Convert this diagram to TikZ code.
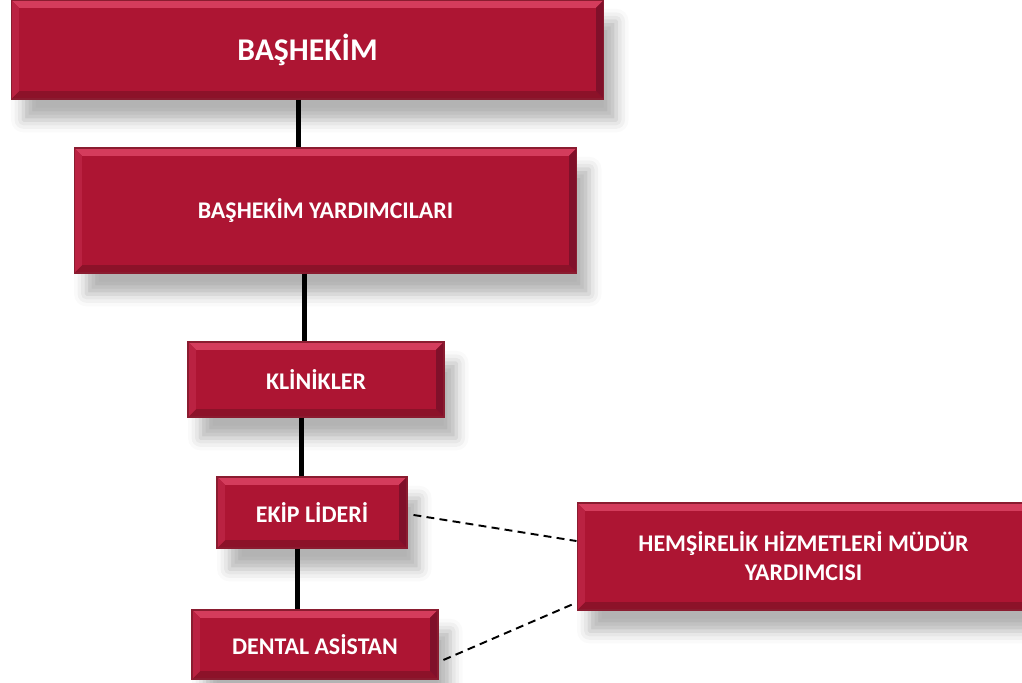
\documentclass[tikz,border=0pt]{standalone}
\usepackage{fontspec}
\setmainfont{Carlito}
\usetikzlibrary{calc,shadows.blur}

\definecolor{boxred}{HTML}{AD1533}
\definecolor{boxedge}{HTML}{8A1C30}
\definecolor{bevtop}{HTML}{D43C5C}
\definecolor{bevleft}{HTML}{BA2242}
\definecolor{bevbot}{HTML}{8C1229}
\definecolor{bevright}{HTML}{80102A}

\tikzset{
  orgbox/.style={draw=boxedge, fill=boxred, line width=0.6pt, text=white,
    font=\bfseries\fontsize{13.6}{16.5}\selectfont, align=center, inner sep=0pt,
    blur shadow={shadow xshift=7pt, shadow yshift=-12pt, shadow blur radius=7pt,
      shadow opacity=30},
    path picture={
      \path (path picture bounding box.south west) coordinate (pp-sw)
            (path picture bounding box.north east) coordinate (pp-ne);
      \coordinate (pp-tl) at (pp-sw |- pp-ne);
      \coordinate (pp-br) at (pp-ne |- pp-sw);
      \fill[bevtop] (pp-tl) -- (pp-ne) -- ($(pp-ne)+(-4.5pt,-4.5pt)$) -- ($(pp-tl)+(4.5pt,-4.5pt)$) -- cycle;
      \fill[bevbot] (pp-sw) -- (pp-br) -- ($(pp-br)+(-4.5pt,4.5pt)$) -- ($(pp-sw)+(4.5pt,4.5pt)$) -- cycle;
      \fill[bevleft] (pp-tl) -- (pp-sw) -- ($(pp-sw)+(4.5pt,4.5pt)$) -- ($(pp-tl)+(4.5pt,-4.5pt)$) -- cycle;
      \fill[bevright] (pp-ne) -- (pp-br) -- ($(pp-br)+(-4.5pt,4.5pt)$) -- ($(pp-ne)+(-4.5pt,-4.5pt)$) -- cycle;
    }},
  link/.style={line width=2.8pt, black},
  dashlink/.style={line width=1.1pt, black, dash pattern=on 4.5pt off 3pt}
}

\begin{document}
\begin{tikzpicture}[x=0.02cm, y=-0.02cm]
\useasboundingbox (0,0) rectangle (1022,683);

% boxes
\node[orgbox, minimum width=11.86cm, minimum height=1.98cm,
  font=\bfseries\fontsize{18}{21}\selectfont] (bashekim) at (307.5,49.5) {BAŞHEKİM};
\node[orgbox, minimum width=10.06cm, minimum height=2.5cm] (yardimci) at (325.5,210.5) {BAŞHEKİM YARDIMCILARI};
\node[orgbox, minimum width=5.12cm, minimum height=1.5cm] (klinik) at (316,379.5) {KLİNİKLER};
\node[orgbox, minimum width=3.8cm, minimum height=1.42cm] (ekip) at (312,512.5) {EKİP LİDERİ};
\node[orgbox, minimum width=4.92cm, minimum height=1.38cm] (asistan) at (315,644.5) {DENTAL ASİSTAN};
\node[orgbox, minimum width=9.06cm, minimum height=2.14cm] (hemsire) at (803.5,556.5)
  {HEMŞİRELİK HİZMETLERİ MÜDÜR\\YARDIMCISI};

% solid links
\draw[link] ([xshift=-5.1pt]bashekim.south) -- ([xshift=-5.1pt]bashekim.south |- yardimci.north);
\draw[link] ([xshift=-12pt]yardimci.south) -- ([xshift=-12pt]yardimci.south |- klinik.north);
\draw[link] ([xshift=-8.5pt]klinik.south) -- ([xshift=-8.5pt]klinik.south |- ekip.north);
\draw[link] ([xshift=-8.5pt]ekip.south) -- ([xshift=-8.5pt]ekip.south |- asistan.north);

% dashed links
\draw[dashlink] ([xshift=3.4pt, yshift=-1.4pt]ekip.east) -- ([yshift=8.8pt]hemsire.west);
\draw[dashlink] ([xshift=2.8pt, yshift=-8.8pt]asistan.east) -- ([yshift=4.5pt]hemsire.south west);
\end{tikzpicture}
\end{document}
